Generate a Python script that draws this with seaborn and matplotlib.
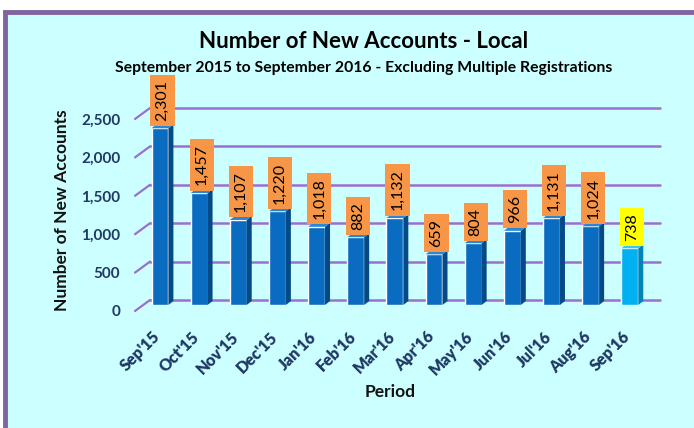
import matplotlib
matplotlib.use("Agg")
import matplotlib.pyplot as plt
import seaborn as sns
import pandas as pd
import numpy as np
from matplotlib.patches import Rectangle, Polygon
from matplotlib.transforms import ScaledTranslation

periods = ["Sep'15", "Oct'15", "Nov'15", "Dec'15", "Jan'16", "Feb'16", "Mar'16",
           "Apr'16", "May'16", "Jun'16", "Jul'16", "Aug'16", "Sep'16"]
accounts = [2301, 1457, 1107, 1220, 1018, 882, 1132, 659, 804, 966, 1131, 1024, 738]
yticks = [0, 500, 1000, 1500, 2000, 2500]

df = pd.DataFrame({"Period": periods, "Accounts": accounts})

sns.set_theme(style="white")
plt.rcParams['font.family'] = ['Lato', 'DejaVu Sans']

BG = "#ccffff"
NAVY = "#1f3864"
GRID = "#9b6fd0"

fig = plt.figure(figsize=(6.94, 4.28), dpi=100)
fig.patch.set_facecolor("white")
W, H = 694, 428
# chart area with purple border
fig.patches.append(Rectangle((5 / W, -0.05), 1.1, 1 - 12 / H + 0.05, transform=fig.transFigure,
                             facecolor=BG, edgecolor="#8064a2", linewidth=3.5, zorder=-10))

ax = fig.add_axes([150 / W, 1 - 305 / H, 510 / W, 192 / H], zorder=1)
ax.set_facecolor("none")

front = ["#0a6cc0"] * (len(periods) - 1) + ["#00b0f0"]
side = ["#034a86"] * (len(periods) - 1) + ["#0085b5"]
top = ["#2a86d6"] * (len(periods) - 1) + ["#3cc6f5"]

sns.barplot(data=df, x="Period", y="Accounts", hue="Period", palette=front,
            width=0.43, legend=False, ax=ax, saturation=1, zorder=3)

ax.set_xlim(-0.255, 12.77)
ax.set_ylim(0, 2500)

# 3D side and top faces
dx = 5 / 39.17
dy = 4 * 2500 / 192
for i, p in enumerate(list(ax.patches)[:len(periods)]):
    x0 = p.get_x(); w = p.get_width(); h = p.get_height()
    x1 = x0 + w
    ax.add_patch(Polygon([(x1, 0), (x1, h), (x1 + dx, h + dy), (x1 + dx, dy)],
                         closed=True, facecolor=side[i], edgecolor="none", zorder=3))
    ax.add_patch(Polygon([(x0, h), (x1, h), (x1 + dx, h + dy), (x0 + dx, h + dy)],
                         closed=True, facecolor=top[i], edgecolor="none", zorder=3))

# back-wall gridlines with diagonal left-wall stubs
gy = 5 * 2500 / 192
sy = 6 * 2500 / 192
for v in yticks:
    ax.plot([0, 1], [v + gy, v + gy], transform=ax.get_yaxis_transform(),
            color=GRID, lw=1.8, zorder=1, clip_on=False)
    ax.plot([-15 / 510, 0], [v - sy, v + gy], transform=ax.get_yaxis_transform(),
            color=GRID, lw=1.6, zorder=1, clip_on=False)

# value labels
for i, v in enumerate(accounts):
    fc = "#ffff00" if i == len(accounts) - 1 else "#f79646"
    ax.annotate(f"{v:,}", xy=(i + dx / 2, v), xytext=(0, 5.5), textcoords="offset points",
                rotation=90, ha="center", va="bottom", fontsize=11.5, color="black",
                bbox=dict(boxstyle="square,pad=0.32", facecolor=fc, edgecolor="none"),
                zorder=5, annotation_clip=False)

for s in ax.spines.values():
    s.set_visible(False)
ax.set_yticks(yticks)
ax.set_yticklabels([f"{t:,}" for t in yticks])
ax.tick_params(axis="y", length=0, pad=21.5, labelsize=11, labelcolor=NAVY)
ax.tick_params(axis="x", length=0, pad=17, labelsize=11.5, labelcolor=NAVY)
for lab in ax.get_yticklabels():
    lab.set_fontweight("bold")
    lab.set_transform(lab.get_transform() + ScaledTranslation(0, -6 / 100, fig.dpi_scale_trans))
for lab in ax.get_xticklabels():
    lab.set_fontweight("heavy")
    lab.set_rotation(45)
    lab.set_ha("right")
    lab.set_rotation_mode("anchor")
    lab.set_transform(lab.get_transform() + ScaledTranslation(-8 / 100, 0, fig.dpi_scale_trans))

ax.set_xlabel("")
ax.set_ylabel("")
fig.text(62 / W, 1 - 210 / H, "Number of New Accounts", rotation=90, ha="center", va="center",
         fontsize=12.5, fontweight="bold", color="#111111")
fig.text(390 / W, 1 - 392 / H, "Period", ha="center", va="center",
         fontsize=12.5, fontweight="bold", color="#111111")
fig.text(364 / W, 1 - 42 / H, "Number of New Accounts - Local", ha="center", va="center",
         fontsize=16, fontweight="bold", color="black")
fig.text(364 / W, 1 - 68 / H, "September 2015 to September 2016 - Excluding Multiple Registrations",
         ha="center", va="center", fontsize=11.3, fontweight="bold", color="black")

fig.savefig("out.png", dpi=100, facecolor=fig.get_facecolor())
